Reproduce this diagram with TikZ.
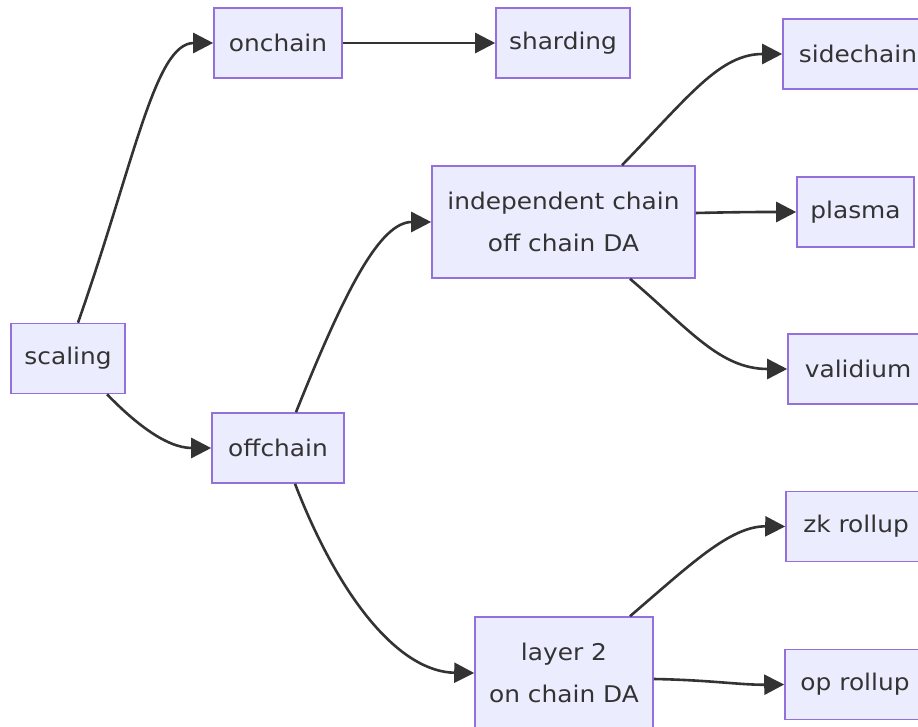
\documentclass[tikz,border=0pt]{standalone}
\usepackage{fontspec}
\setmainfont{DejaVu Sans}[FakeStretch=1.08]
\usetikzlibrary{arrows.meta}

\definecolor{boxfill}{HTML}{ECECFF}
\definecolor{boxline}{HTML}{9370DB}
\definecolor{ink}{HTML}{333333}

\tikzset{
  box/.style={draw=boxline, fill=boxfill, line width=1.6pt, text=ink,
    font=\fontsize{23}{42}\selectfont, align=center,
    minimum height=70pt, inner sep=0pt},
  tallbox/.style={box, minimum height=112pt},
  link/.style={draw=ink, line width=2.6pt,
    -{Triangle[length=20pt,width=20pt]}}
}

\begin{document}
\begin{tikzpicture}[x=1pt,y=-1pt]
\useasboundingbox (0,0) rectangle (918,727);
\begin{scope}
\clip (0,0) rectangle (918,727);

% nodes
\node[box, minimum width=114pt] (scaling) at (68,358.5) {scaling};
\node[box, minimum width=128pt] (onchain) at (278,43) {onchain};
\node[box, minimum width=134pt] (sharding) at (563,43) {sharding};
\node[box, minimum width=132pt] (offchain) at (278,448) {offchain};
\node[tallbox, minimum width=263pt] (indep) at (563.5,222)
  {independent chain\\off chain DA};
\node[tallbox, minimum width=178pt] (layer2) at (564,673)
  {layer 2\\on chain DA};
\node[box, minimum width=150pt] (sidechain) at (858,54) {sidechain};
\node[box, minimum width=117pt] (plasma) at (855.5,212) {plasma};
\node[box, minimum width=140pt] (validium) at (858,369) {validium};
\node[box, minimum width=140pt] (zk) at (856,526.5) {zk rollup};
\node[box, minimum width=140pt] (op) at (855,684.5) {op rollup};

% connectors (shifts are in page units: positive yshift moves up)
\draw[link] ([xshift=10pt]scaling.north) .. controls (135,160) and (155,43) .. (onchain.west);
\draw[link] ([xshift=39pt]scaling.south) .. controls (132,420) and (165,448) .. (offchain.west);
\draw[link] (onchain.east) -- (sharding.west);
\draw[link] ([xshift=18pt]offchain.north) .. controls (345,290) and (380,222) .. (indep.west);
\draw[link] ([xshift=17pt]offchain.south) .. controls (340,600) and (400,672) .. (layer2.west);
\draw[link] ([xshift=58.5pt]indep.north) .. controls (690,95) and (720,54) .. (sidechain.west);
\draw[link] ([yshift=9pt]indep.east) .. controls (740,212) and (760,212) .. (plasma.west);
\draw[link] ([xshift=66.5pt]indep.south) .. controls (690,330) and (720,369) .. (validium.west);
\draw[link] ([xshift=66pt]layer2.north) .. controls (690,565) and (730,526) .. (zk.west);
\draw[link] ([yshift=-6pt]layer2.east) .. controls (710,680) and (740,685) .. (op.west);
\end{scope}
\end{tikzpicture}
\end{document}
